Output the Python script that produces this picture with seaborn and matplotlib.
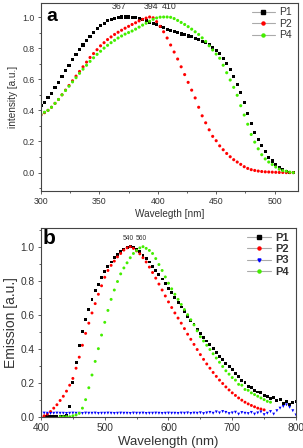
import numpy as np
import pandas as pd
import matplotlib
matplotlib.use("Agg")
import matplotlib.pyplot as plt
from matplotlib.lines import Line2D
from matplotlib.ticker import MultipleLocator
import seaborn as sns

# панель a: поглощение
wl_abs = np.arange(300, 517, 3)
p1_abs = [0.43, 0.45, 0.48, 0.51, 0.545, 0.58, 0.615, 0.655, 0.69, 0.725,
          0.76, 0.79, 0.82, 0.85, 0.877, 0.902, 0.925, 0.945, 0.961, 0.975,
          0.985, 0.993, 0.998, 1.0, 1.0, 1.0, 0.998, 0.995, 0.99, 0.983,
          0.975, 0.967, 0.958, 0.95, 0.94, 0.93, 0.921, 0.912, 0.905, 0.898,
          0.891, 0.885, 0.878, 0.872, 0.864, 0.855, 0.845, 0.834, 0.822, 0.805,
          0.787, 0.765, 0.735, 0.70, 0.66, 0.615, 0.567, 0.515, 0.45, 0.38,
          0.315, 0.26, 0.215, 0.172, 0.134, 0.10, 0.075, 0.05, 0.032, 0.018,
          0.009, 0.003, 0.0]
p2_abs = [0.37, 0.385, 0.40, 0.42, 0.445, 0.47, 0.50, 0.53, 0.56, 0.59,
          0.62, 0.65, 0.68, 0.71, 0.74, 0.765, 0.79, 0.815, 0.835, 0.855,
          0.872, 0.888, 0.902, 0.915, 0.928, 0.94, 0.952, 0.963, 0.975, 0.985,
          0.993, 1.0, 0.995, 0.97, 0.94, 0.905, 0.865, 0.82, 0.775, 0.73,
          0.68, 0.63, 0.58, 0.53, 0.48, 0.42, 0.365, 0.32, 0.275, 0.233,
          0.205, 0.172, 0.147, 0.123, 0.102, 0.083, 0.068, 0.053, 0.038, 0.027,
          0.019, 0.014, 0.01, 0.007, 0.005, 0.004, 0.003, 0.002, 0.001, 0.001,
          0.0, 0.0, 0.0]
p4_abs = [0.375, 0.388, 0.40, 0.42, 0.445, 0.47, 0.50, 0.528, 0.555, 0.583,
          0.61, 0.638, 0.665, 0.69, 0.715, 0.738, 0.76, 0.78, 0.80, 0.818,
          0.835, 0.85, 0.865, 0.878, 0.89, 0.90, 0.91, 0.922, 0.935, 0.948,
          0.96, 0.973, 0.985, 0.994, 0.999, 1.0, 1.0, 0.998, 0.99, 0.978,
          0.965, 0.952, 0.938, 0.922, 0.905, 0.888, 0.866, 0.843, 0.815, 0.788,
          0.762, 0.735, 0.69, 0.642, 0.595, 0.548, 0.497, 0.43, 0.37, 0.311,
          0.245, 0.196, 0.153, 0.115, 0.088, 0.068, 0.052, 0.036, 0.022, 0.013,
          0.009, 0.003, 0.0]
abs_peaks = [367, 394, 410]

# панель b: эмиссия
wl_em = np.arange(400, 801, 5)
wl_p2_em = np.arange(400, 751, 5)
wl_p4_em = np.arange(430, 761, 5)
p1_em = [0.0, 0.0, 0.0, 0.0, 0.0, 0.0, 0.0, 0.0, 0.005, 0.06,
         0.2, 0.32, 0.42, 0.5, 0.57, 0.63, 0.69, 0.74, 0.78, 0.82,
         0.855, 0.885, 0.91, 0.935, 0.955, 0.97, 0.985, 0.995, 1.0, 0.995,
         0.985, 0.97, 0.95, 0.93, 0.91, 0.885, 0.86, 0.835, 0.81, 0.782,
         0.755, 0.728, 0.70, 0.672, 0.645, 0.618, 0.59, 0.565, 0.54, 0.515,
         0.49, 0.467, 0.445, 0.422, 0.40, 0.378, 0.355, 0.335, 0.315, 0.293,
         0.275, 0.255, 0.235, 0.215, 0.2, 0.18, 0.17, 0.155, 0.145, 0.14,
         0.125, 0.12, 0.105, 0.11, 0.095, 0.1, 0.08, 0.09, 0.07, 0.085, 0.09]
p2_em = [0.0, 0.005, 0.015, 0.03, 0.05, 0.07, 0.095, 0.12, 0.15, 0.185,
         0.225, 0.285, 0.35, 0.42, 0.49, 0.55, 0.61, 0.665, 0.72, 0.77,
         0.82, 0.86, 0.89, 0.915, 0.94, 0.96, 0.98, 0.993, 1.0, 0.99,
         0.975, 0.958, 0.935, 0.91, 0.88, 0.848, 0.815, 0.78, 0.745, 0.71,
         0.675, 0.642, 0.61, 0.58, 0.55, 0.518, 0.485, 0.455, 0.425, 0.395,
         0.365, 0.337, 0.31, 0.285, 0.26, 0.237, 0.215, 0.195, 0.175, 0.157,
         0.14, 0.125, 0.11, 0.097, 0.085, 0.075, 0.066, 0.058, 0.05, 0.045, 0.04]
p3_em = [0.02, 0.021, 0.02, 0.019, 0.02, 0.021, 0.02, 0.02, 0.019, 0.02,
         0.021, 0.02, 0.02, 0.019, 0.021, 0.02, 0.02, 0.021, 0.019, 0.02,
         0.02, 0.021, 0.02, 0.019, 0.02, 0.021, 0.02, 0.02, 0.019, 0.021,
         0.02, 0.02, 0.021, 0.019, 0.02, 0.02, 0.021, 0.02, 0.019, 0.02,
         0.021, 0.02, 0.02, 0.019, 0.021, 0.02, 0.022, 0.019, 0.021, 0.02,
         0.023, 0.018, 0.022, 0.025, 0.02, 0.028, 0.022, 0.03, 0.025, 0.018,
         0.022, 0.026, 0.015, 0.024, 0.02, 0.018, 0.025, 0.015, 0.022, 0.028,
         0.012, 0.02, 0.03, 0.015, 0.035, 0.05, 0.06, 0.07, 0.055, 0.035, 0.01]
p4_em = [0.0, 0.0, 0.0, 0.0, 0.005, 0.01, 0.02, 0.05, 0.1, 0.17,
         0.245, 0.325, 0.4, 0.48, 0.555, 0.625, 0.69, 0.745, 0.795, 0.84,
         0.875, 0.905, 0.935, 0.96, 0.978, 0.993, 1.0, 0.99, 0.978, 0.96,
         0.93, 0.895, 0.86, 0.822, 0.785, 0.752, 0.72, 0.69, 0.66, 0.63,
         0.6, 0.57, 0.54, 0.505, 0.47, 0.445, 0.42, 0.395, 0.37, 0.345,
         0.32, 0.295, 0.27, 0.25, 0.23, 0.215, 0.19, 0.185, 0.16, 0.155,
         0.14, 0.13, 0.12, 0.11, 0.1, 0.09, 0.085]
em_peaks = [540, 560]

colors = {"P1": "#000000", "P2": "#ff0000", "P3": "#0000ff", "P4": "#44ee00"}
markers = {"P1": "s", "P2": "o", "P3": "v", "P4": "o"}


def long_frame(parts):
    return pd.concat([pd.DataFrame({"wl": w, "val": v, "series": name})
                      for name, w, v in parts], ignore_index=True)


df_abs = long_frame([("P1", wl_abs, p1_abs), ("P2", wl_abs, p2_abs),
                     ("P4", wl_abs, p4_abs)])
df_em = long_frame([("P1", wl_em, p1_em), ("P2", wl_p2_em, p2_em),
                    ("P3", wl_em, p3_em), ("P4", wl_p4_em, p4_em)])

sns.set_style("ticks")
plt.rcParams["font.family"] = ["Liberation Sans", "DejaVu Sans"]
plt.rcParams["text.color"] = "#333333"
plt.rcParams["axes.labelcolor"] = "#333333"

fig = plt.figure(figsize=(3.03, 4.48), dpi=100)
ax1 = fig.add_axes([0.1353, 0.5737, 0.848, 0.4196])
ax2 = fig.add_axes([0.1353, 0.0692, 0.8416, 0.4219])


def style_axes(ax, size):
    for s in ax.spines.values():
        s.set_color("#444444")
        s.set_linewidth(0.8)
    ax.tick_params(which="both", direction="out", colors="#444444",
                   labelcolor="#333333", labelsize=size, width=0.6, pad=2)
    ax.tick_params(which="major", length=2.5)
    ax.tick_params(which="minor", length=1.5)


def make_legend(ax, names, bold, size, **kw):
    handles = [Line2D([0], [0], color="#aaaaaa", lw=0.8, marker=markers[n],
                      markersize=2.2, markerfacecolor=colors[n],
                      markeredgecolor=colors[n]) for n in names]
    leg = ax.legend(handles, names, loc="upper right", frameon=False,
                    handlelength=2.2, handletextpad=0.4, numpoints=1,
                    prop={"size": size, "weight": "bold" if bold else "normal"},
                    **kw)
    return leg


# панель a
sns.scatterplot(data=df_abs, x="wl", y="val", hue="series", style="series",
                palette=colors, markers=markers, s=5, linewidth=0,
                legend=False, ax=ax1)
ax1.set_xlim(300, 520)
ax1.set_ylim(-0.118, 1.09)
ax1.xaxis.set_major_locator(MultipleLocator(50))
ax1.xaxis.set_minor_locator(MultipleLocator(25))
ax1.yaxis.set_major_locator(MultipleLocator(0.2))
ax1.yaxis.set_minor_locator(MultipleLocator(0.1))
ax1.set_xlabel("Wavelegth [nm]", fontsize=7.2, labelpad=2)
ax1.set_ylabel("intensity [a.u.]", fontsize=7.2, labelpad=3)
style_axes(ax1, 6.3)
for p in abs_peaks:
    ax1.text(p, 1.04, str(p), fontsize=6.3, ha="center", va="bottom")
ax1.text(0.02, 0.975, "a", transform=ax1.transAxes, fontsize=14,
         fontweight="bold", va="top", ha="left", color="black")
make_legend(ax1, ["P1", "P2", "P4"], False, 7.5, labelspacing=0.15,
            borderaxespad=0.2, bbox_to_anchor=(1.0, 1.01))

# панель b
sns.scatterplot(data=df_em, x="wl", y="val", hue="series", style="series",
                palette=colors, markers=markers, s=4.5, linewidth=0,
                legend=False, ax=ax2)
ax2.set_xlim(400, 800)
ax2.set_ylim(-0.002, 1.11)
ax2.xaxis.set_major_locator(MultipleLocator(100))
ax2.xaxis.set_minor_locator(MultipleLocator(50))
ax2.yaxis.set_major_locator(MultipleLocator(0.2))
ax2.yaxis.set_minor_locator(MultipleLocator(0.1))
ax2.set_xlabel("Wavelength (nm)", fontsize=9.5, labelpad=2)
ax2.set_ylabel("Emission [a.u.]", fontsize=10, labelpad=2)
style_axes(ax2, 7.3)
for p in em_peaks:
    ax2.text(p - 3, 1.025, str(p), fontsize=4.8, ha="center", va="bottom")
ax2.text(0.005, 0.995, "b", transform=ax2.transAxes, fontsize=15,
         fontweight="bold", va="top", ha="left", color="black")
make_legend(ax2, ["P1", "P2", "P3", "P4"], True, 8, labelspacing=0.12,
            borderaxespad=0.2, bbox_to_anchor=(1.0, 1.01))

fig.savefig("out.png", dpi=100)
